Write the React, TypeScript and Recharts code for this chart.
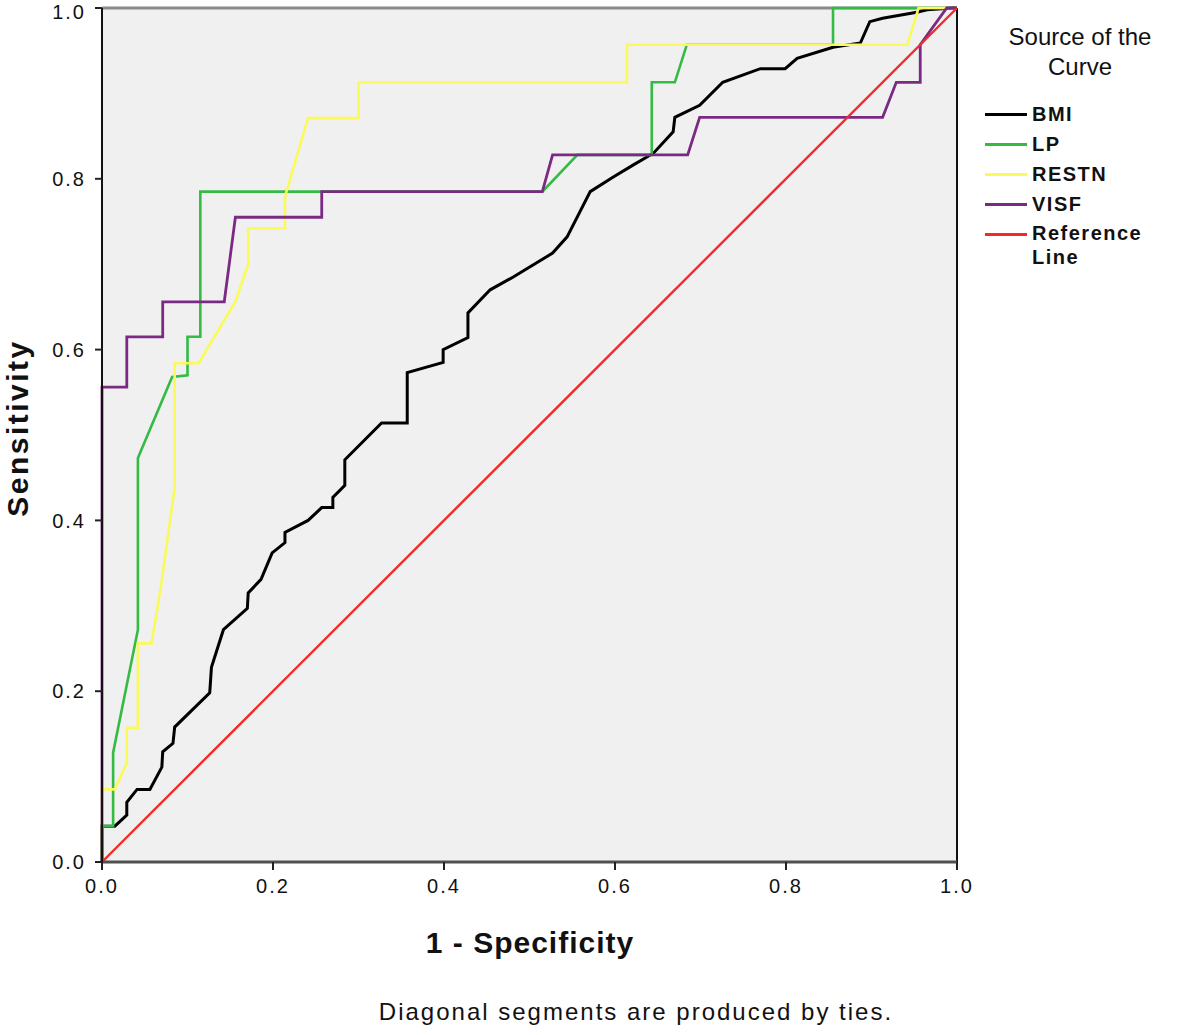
import React from 'react';
import {
  LineChart,
  Line,
  XAxis,
  YAxis,
  CartesianGrid,
  ReferenceLine,
} from 'recharts';

interface Pt {
  x: number;
  y: number;
}

// ROC points (x = 1 - specificity, y = sensitivity)
const bmiPoints: Pt[] = [
  { x: 0, y: 0 }, { x: 0, y: 0.042 }, { x: 0.015, y: 0.042 }, { x: 0.029, y: 0.055 },
  { x: 0.029, y: 0.07 }, { x: 0.041, y: 0.085 }, { x: 0.056, y: 0.085 }, { x: 0.07, y: 0.111 },
  { x: 0.071, y: 0.129 }, { x: 0.083, y: 0.139 }, { x: 0.085, y: 0.158 }, { x: 0.126, y: 0.198 },
  { x: 0.128, y: 0.228 }, { x: 0.142, y: 0.272 }, { x: 0.17, y: 0.297 }, { x: 0.171, y: 0.315 },
  { x: 0.186, y: 0.331 }, { x: 0.199, y: 0.362 }, { x: 0.214, y: 0.374 }, { x: 0.214, y: 0.386 },
  { x: 0.241, y: 0.4 }, { x: 0.257, y: 0.415 }, { x: 0.27, y: 0.415 }, { x: 0.27, y: 0.427 },
  { x: 0.284, y: 0.441 }, { x: 0.284, y: 0.471 }, { x: 0.327, y: 0.514 }, { x: 0.357, y: 0.514 },
  { x: 0.357, y: 0.573 }, { x: 0.399, y: 0.585 }, { x: 0.399, y: 0.6 }, { x: 0.428, y: 0.614 },
  { x: 0.428, y: 0.643 }, { x: 0.454, y: 0.67 }, { x: 0.481, y: 0.685 }, { x: 0.527, y: 0.713 },
  { x: 0.544, y: 0.732 }, { x: 0.571, y: 0.785 }, { x: 0.598, y: 0.802 }, { x: 0.621, y: 0.816 },
  { x: 0.645, y: 0.83 }, { x: 0.668, y: 0.855 }, { x: 0.67, y: 0.872 }, { x: 0.699, y: 0.886 },
  { x: 0.726, y: 0.913 }, { x: 0.77, y: 0.929 }, { x: 0.799, y: 0.929 }, { x: 0.813, y: 0.941 },
  { x: 0.855, y: 0.954 }, { x: 0.887, y: 0.959 }, { x: 0.898, y: 0.984 }, { x: 0.913, y: 0.988 },
  { x: 0.953, y: 0.995 }, { x: 0.965, y: 0.998 }, { x: 0.995, y: 1 }, { x: 1, y: 1 },
];

const lpPoints: Pt[] = [
  { x: 0, y: 0 }, { x: 0, y: 0.042 }, { x: 0.013, y: 0.042 }, { x: 0.013, y: 0.128 },
  { x: 0.042, y: 0.272 }, { x: 0.042, y: 0.473 }, { x: 0.082, y: 0.568 }, { x: 0.1, y: 0.57 },
  { x: 0.1, y: 0.615 }, { x: 0.115, y: 0.615 }, { x: 0.115, y: 0.785 }, { x: 0.515, y: 0.785 },
  { x: 0.556, y: 0.828 }, { x: 0.643, y: 0.828 }, { x: 0.643, y: 0.913 }, { x: 0.67, y: 0.913 },
  { x: 0.684, y: 0.957 }, { x: 0.855, y: 0.957 }, { x: 0.855, y: 1 }, { x: 1, y: 1 },
];

const restnPoints: Pt[] = [
  { x: 0, y: 0 }, { x: 0, y: 0.085 }, { x: 0.015, y: 0.085 }, { x: 0.029, y: 0.116 },
  { x: 0.029, y: 0.157 }, { x: 0.042, y: 0.157 }, { x: 0.042, y: 0.256 }, { x: 0.058, y: 0.256 },
  { x: 0.07, y: 0.33 }, { x: 0.085, y: 0.439 }, { x: 0.085, y: 0.584 }, { x: 0.113, y: 0.584 },
  { x: 0.156, y: 0.656 }, { x: 0.171, y: 0.7 }, { x: 0.171, y: 0.742 }, { x: 0.214, y: 0.742 },
  { x: 0.214, y: 0.779 }, { x: 0.241, y: 0.871 }, { x: 0.3, y: 0.871 }, { x: 0.3, y: 0.913 },
  { x: 0.614, y: 0.913 }, { x: 0.614, y: 0.957 }, { x: 0.942, y: 0.957 }, { x: 0.955, y: 1 },
  { x: 1, y: 1 },
];

const visfPoints: Pt[] = [
  { x: 0, y: 0 }, { x: 0, y: 0.556 }, { x: 0.029, y: 0.556 }, { x: 0.029, y: 0.615 },
  { x: 0.071, y: 0.615 }, { x: 0.071, y: 0.656 }, { x: 0.143, y: 0.656 }, { x: 0.156, y: 0.755 },
  { x: 0.257, y: 0.755 }, { x: 0.257, y: 0.785 }, { x: 0.515, y: 0.785 }, { x: 0.527, y: 0.828 },
  { x: 0.685, y: 0.828 }, { x: 0.699, y: 0.872 }, { x: 0.913, y: 0.872 }, { x: 0.929, y: 0.913 },
  { x: 0.957, y: 0.913 }, { x: 0.957, y: 0.957 }, { x: 0.988, y: 1 }, { x: 1, y: 1 },
];

const refPoints: Pt[] = [
  { x: 0, y: 0 },
  { x: 1, y: 1 },
];

const ticks = [0, 0.2, 0.4, 0.6, 0.8, 1];

const series = [
  { name: 'BMI', color: '#000000', width: 3, data: bmiPoints },
  { name: 'LP', color: '#33bb44', width: 2.6, data: lpPoints },
  { name: 'RESTN', color: '#fafa5a', width: 2.6, data: restnPoints },
  { name: 'VISF', color: '#7a2a82', width: 2.8, data: visfPoints },
  { name: 'Reference Line', color: '#f32a2a', width: 2.4, data: refPoints },
];

const sans = '"Liberation Sans", Arial, sans-serif';

const fmt = (v: number) => v.toFixed(1);

const tickStyle = { fill: '#111', fontSize: 20, fontFamily: sans, letterSpacing: 2 };

const App = () => {
  return (
    <div
      style={{
        position: 'absolute',
        left: 0,
        top: 0,
        width: 1181,
        height: 1035,
        background: '#fff',
        fontFamily: sans,
      }}
    >
      <LineChart
        width={1181}
        height={1035}
        margin={{ top: 8, right: 224, bottom: 143, left: 42 }}
      >
        <CartesianGrid fill="#f0f0f0" stroke="none" horizontal={false} vertical={false} />
        <XAxis
          type="number"
          dataKey="x"
          domain={[0, 1]}
          ticks={ticks}
          tickFormatter={fmt}
          height={30}
          axisLine={{ stroke: '#505050', strokeWidth: 3 }}
          tickLine={{ stroke: '#222', strokeWidth: 2 }}
          tickSize={8}
          tickMargin={9}
          tick={tickStyle}
          allowDuplicatedCategory={false}
        />
        <YAxis
          type="number"
          dataKey="y"
          domain={[0, 1]}
          ticks={ticks}
          tickFormatter={fmt}
          width={60}
          axisLine={{ stroke: '#111', strokeWidth: 2 }}
          tickLine={{ stroke: '#222', strokeWidth: 2 }}
          tickSize={7}
          tickMargin={9}
          tick={tickStyle}
        />
        <ReferenceLine y={1} stroke="#8a8a8a" strokeWidth={3} />
        <ReferenceLine x={1} stroke="#111" strokeWidth={2} />
        {series.map((s) => (
          <Line
            key={s.name}
            data={s.data}
            dataKey="y"
            name={s.name}
            type="linear"
            stroke={s.color}
            strokeWidth={s.width}
            dot={false}
            activeDot={false}
            isAnimationActive={false}
          />
        ))}
      </LineChart>

      {/* axis titles */}
      <div
        style={{
          position: 'absolute',
          left: 330,
          width: 400,
          top: 926,
          textAlign: 'center',
          fontWeight: 'bold',
          fontSize: 30,
          letterSpacing: 1,
          fontFamily: sans,
          color: '#111',
        }}
      >
        1 - Specificity
      </div>
      <div
        style={{
          position: 'absolute',
          left: 18 - 200,
          top: 428 - 18,
          width: 400,
          textAlign: 'center',
          transform: 'rotate(-90deg)',
          fontWeight: 'bold',
          fontSize: 30,
          letterSpacing: 2.5,
          fontFamily: sans,
          color: '#111',
          lineHeight: '36px',
        }}
      >
        Sensitivity
      </div>

      {/* legend */}
      <div
        style={{
          position: 'absolute',
          left: 990,
          top: 22,
          width: 180,
          textAlign: 'center',
          fontSize: 24,
          fontFamily: sans,
          color: '#111',
          lineHeight: '30px',
        }}
      >
        Source of the
        <br />
        Curve
      </div>
      <div style={{ position: 'absolute', left: 985, top: 100 }}>
        {series.map((s) =>
          s.name === 'Reference Line' ? (
            <div key={s.name} style={{ display: 'flex', alignItems: 'flex-start', height: 48 }}>
              <div
                style={{ width: 42, height: 3, background: s.color, marginTop: 13, marginRight: 5 }}
              />
              <div style={{ width: 150 }}>
                {['Reference', 'Line'].map((w) => (
                  <div
                    key={w}
                    style={{
                      fontWeight: 'bold',
                      fontSize: 20,
                      letterSpacing: 1.5,
                      fontFamily: sans,
                      color: '#111',
                      lineHeight: '22px',
                      height: 22,
                      paddingTop: 2,
                    }}
                  >
                    {w}
                  </div>
                ))}
              </div>
            </div>
          ) : (
            <div key={s.name} style={{ display: 'flex', alignItems: 'flex-start', height: 30 }}>
              <div
                style={{ width: 42, height: 3, background: s.color, marginTop: 13, marginRight: 5 }}
              />
              <div
                style={{
                  fontWeight: 'bold',
                  fontSize: 20,
                  letterSpacing: 1.5,
                  fontFamily: sans,
                  color: '#111',
                  lineHeight: '24px',
                  width: 150,
                  paddingTop: 2,
                }}
              >
                {s.name}
              </div>
            </div>
          )
        )}
      </div>

      {/* footnote */}
      <div
        style={{
          position: 'absolute',
          left: 286,
          width: 700,
          top: 998,
          textAlign: 'center',
          fontSize: 24,
          letterSpacing: 2,
          fontFamily: sans,
          color: '#111',
        }}
      >
        Diagonal segments are produced by ties.
      </div>
    </div>
  );
};

export default App;
